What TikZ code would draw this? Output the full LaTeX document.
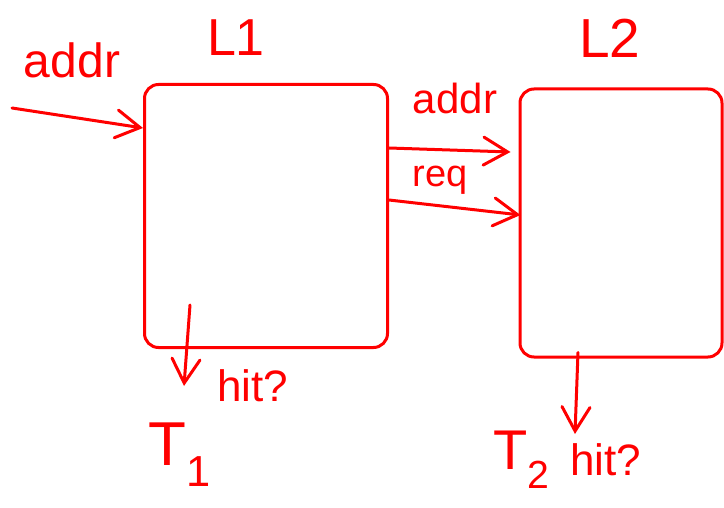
\documentclass[tikz,border=0pt]{standalone}
\usepackage{fontspec}
\setmainfont{Liberation Sans}
\usetikzlibrary{arrows.meta,calc}
\begin{document}
\begin{tikzpicture}[x=1pt,y=-1pt,
  ink/.style={draw=red,line width=3pt,line cap=round,line join=round},
  cachebox/.style={ink,rounded corners=14pt,minimum width=#1},
  arr/.style={ink,-{Straight Barb[length=24pt,width=28pt,line cap=round]}},
  lbl/.style={text=red,inner sep=0pt,font=\fontsize{#1}{#1}\selectfont}]
\useasboundingbox (0,0) rectangle (724,508);
% cache boxes
\node[cachebox=243pt,minimum height=263pt] (L1) at (266,216) {};
\node[cachebox=202pt,minimum height=268pt] (L2) at (621,223) {};
% titles
\node[lbl=52] (t1) at (236,38) {L1};
\node[lbl=55] (t2) at (610,38) {L2};
% incoming address
\coordinate (src) at (12,108);
\node[lbl=48] (a0) at (72,60) {addr};
\draw[arr] (src) -- ([yshift=88pt]L1.west);
% L1 to L2
\node[lbl=42] (a1) at (455,98) {addr};
\draw[arr] ([yshift=68pt]L1.east) -- ([yshift=71pt,xshift=-8pt]L2.west);
\node[lbl=38] (rq) at (440,180) {req};
\draw[arr] ([yshift=16pt]L1.east) -- ([yshift=8pt,xshift=2pt]L2.west);
% hit outputs
\coordinate (h1) at (184,386);
\draw[arr] ([xshift=-76pt,yshift=44pt]L1.south) -- (h1);
\node[lbl=44] (hit1) at (253,386) {hit?};
\node[lbl=62] (T1) at (180,455) {T\textsubscript{1}};
\coordinate (h2) at (575,434);
\draw[arr] ([xshift=-43pt,yshift=6pt]L2.south) -- (h2);
\node[lbl=56] (T2) at (522,460) {T\textsubscript{2}};
\node[lbl=44] (hit2) at (606,460) {hit?};
\end{tikzpicture}
\end{document}
